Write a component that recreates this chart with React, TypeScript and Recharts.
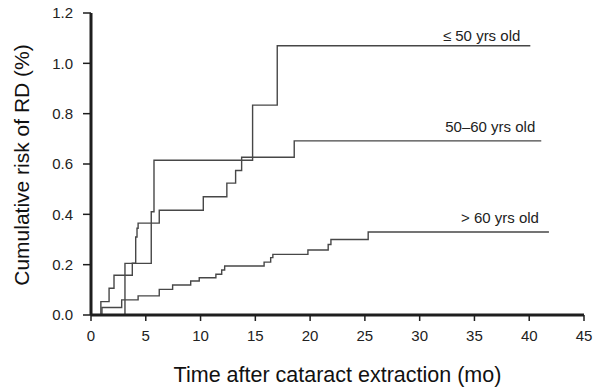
import React from "react";
import { LineChart, Line, XAxis, YAxis, Label } from "recharts";

// ---- data ----
const xTicks = [0, 5, 10, 15, 20, 25, 30, 35, 40, 45];
const yTicks = [0, 0.2, 0.4, 0.6, 0.8, 1.0, 1.2];

const seriesNames = ["≤ 50 yrs old", "50–60 yrs old", "> 60 yrs old"];

const le50Times = [0, 3.1, 5.5, 5.75, 14.75, 17.0];
const le50Risk = [0, 0.205, 0.41, 0.615, 0.834, 1.07];
const le50End = 40.1;

const mid5060Times = [0, 0.9, 1.65, 2.1, 3.77, 4.08, 4.2, 4.3, 6.23, 10.25, 12.4, 13.2, 13.75, 18.55];
const mid5060Risk = [0, 0.053, 0.106, 0.158, 0.206, 0.31, 0.345, 0.365, 0.416, 0.47, 0.524, 0.574, 0.627, 0.692];
const mid5060End = 41.1;

const gt60Times = [0, 1.0, 2.8, 4.3, 6.23, 7.45, 9.1, 9.88, 11.4, 11.93, 12.2, 15.8, 16.4, 16.6, 19.8, 21.65, 21.9, 25.3];
const gt60Risk = [0, 0.03, 0.06, 0.076, 0.102, 0.119, 0.135, 0.148, 0.162, 0.179, 0.195, 0.21, 0.228, 0.241, 0.258, 0.28, 0.3, 0.33];
const gt60End = 41.8;

function buildSteps(times: number[], risk: number[], end: number) {
  const pts = times.map((t, i) => ({ x: t, y: risk[i] }));
  pts.push({ x: end, y: risk[risk.length - 1] });
  return pts;
}

const series = [
  { name: seriesNames[0], data: buildSteps(le50Times, le50Risk, le50End) },
  { name: seriesNames[1], data: buildSteps(mid5060Times, mid5060Risk, mid5060End) },
  { name: seriesNames[2], data: buildSteps(gt60Times, gt60Risk, gt60End) },
];

// ---- styles ----
const FONT = "'Liberation Sans', Arial, sans-serif";
const AXIS = "#1e1e1e";
const LINE = "#474747";
const labelOffsets = [
  { dx: -10, dy: -5 },
  { dx: -6, dy: -8.5 },
  { dx: -10, dy: -8.5 },
];

function endLabel(si: number) {
  const n = series[si].data.length;
  return (props: any) => {
    const { x, y, index } = props;
    if (index !== n - 1) return null;
    return (
      <text
        key={`lbl-${si}`}
        x={x + labelOffsets[si].dx}
        y={y + labelOffsets[si].dy}
        textAnchor="end"
        fontFamily={FONT}
        fontSize={15}
        fill="#222"
      >
        {series[si].name}
      </text>
    );
  };
}

export default function App() {
  return (
    <div style={{ position: "absolute", left: 0, top: 0, background: "#fff" }}>
      <LineChart
        width={593}
        height={388}
        margin={{ top: 13, right: 9, left: 0, bottom: 0 }}
      >
        <XAxis
          type="number"
          dataKey="x"
          domain={[0, 45]}
          ticks={xTicks}
          allowDataOverflow
          height={73}
          tickSize={6}
          tickMargin={9}
          axisLine={{ stroke: AXIS, strokeWidth: 3 }}
          tickLine={{ stroke: AXIS, strokeWidth: 1.5 }}
          tick={{ fill: "#222", fontSize: 15, fontFamily: FONT }}
        >
          <Label
            content={(p: any) => {
              const vb = p.viewBox || {};
              return (
                <text
                  x={vb.x + vb.width / 2}
                  y={vb.y + 67}
                  textAnchor="middle"
                  fontFamily={FONT}
                  fontSize={21.5}
                  fill="#111"
                >
                  Time after cataract extraction (mo)
                </text>
              );
            }}
          />
        </XAxis>
        <YAxis
          type="number"
          domain={[0, 1.2]}
          ticks={yTicks}
          width={91}
          tickSize={8}
          tickMargin={10}
          tickFormatter={(v: number) => v.toFixed(1)}
          axisLine={{ stroke: AXIS, strokeWidth: 3 }}
          tickLine={{ stroke: AXIS, strokeWidth: 1.5 }}
          tick={{ fill: "#222", fontSize: 15, fontFamily: FONT }}
        >
          <Label
            content={(p: any) => {
              const vb = p.viewBox || {};
              const cx = 29;
              const cy = 165;
              return (
                <text
                  x={cx}
                  y={cy}
                  transform={`rotate(-90 ${cx} ${cy})`}
                  textAnchor="middle"
                  fontFamily={FONT}
                  fontSize={21}
                  fill="#111"
                >
                  Cumulative risk of RD (%)
                </text>
              );
            }}
          />
        </YAxis>
        {series.map((s, si) => (
          <Line
            key={s.name}
            data={s.data}
            dataKey="y"
            type="stepAfter"
            stroke={LINE}
            strokeWidth={1.4}
            dot={false}
            activeDot={false}
            isAnimationActive={false}
            label={endLabel(si)}
          />
        ))}
      </LineChart>
    </div>
  );
}
